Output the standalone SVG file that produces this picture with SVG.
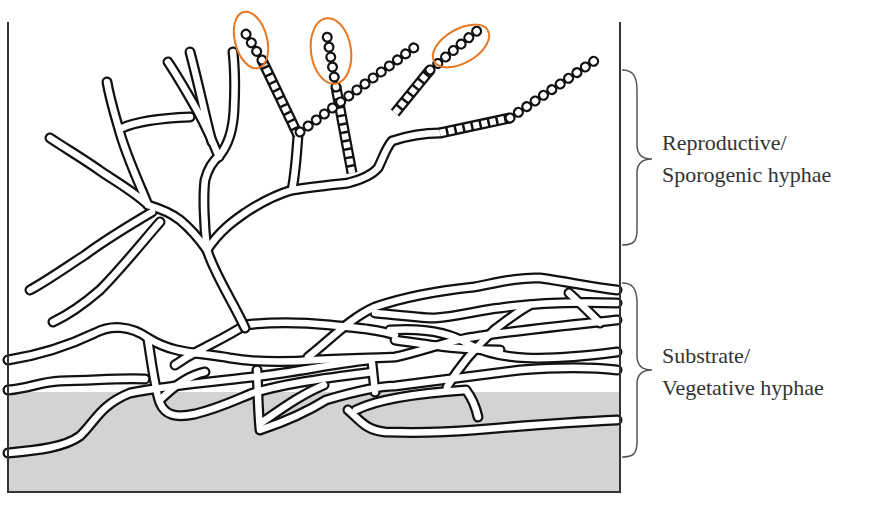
<svg xmlns="http://www.w3.org/2000/svg" width="878" height="514" viewBox="0 0 878 514">
<style>
.o{fill:none;stroke:#111;stroke-width:11;stroke-linecap:round;stroke-linejoin:round}
.i{fill:none;stroke:#fff;stroke-width:6.5;stroke-linecap:round;stroke-linejoin:round}
.so{fill:none;stroke:#111;stroke-width:11;stroke-linecap:round;stroke-dasharray:0.1 10}
.si{fill:none;stroke:#fff;stroke-width:6.5;stroke-linecap:round;stroke-dasharray:0.1 10}
.co{fill:none;stroke:#111;stroke-width:11;stroke-linecap:butt}
.ci{fill:none;stroke:#fff;stroke-width:6.5;stroke-dasharray:6 2.5}
.ring{fill:none;stroke:#e87722;stroke-width:2}
.br{fill:none;stroke:#555;stroke-width:1.5}
.t{font-family:"Liberation Serif",serif;font-size:22px;fill:#333}
</style>
<defs>
<g id="veg">
<path d="M8,360 C40,355 70,345 95,333 C110,325 130,325 148,338 C175,355 200,352 230,358 C260,363 290,362 316,360 C350,358 380,358 395,357 C420,352 450,340 474,337 C520,330 570,325 617,320"/>
<path d="M245,325 C270,322 300,322 330,325 C360,328 380,330 395,335"/>
<path d="M245,325 C230,335 215,342 200,350 C190,355 182,360 175,365"/>
<path d="M308,357 C330,340 350,318 375,307 C410,295 445,290 474,287 C500,282 520,277 540,278 C570,282 590,287 617,290"/>
<path d="M375,313 C400,315 420,318 435,318 C460,316 480,310 500,308 C540,302 580,302 617,303"/>
<path d="M8,390 C30,388 40,382 60,381 C100,380 120,378 145,379"/>
<path d="M8,453 C40,450 65,447 80,436 C95,422 100,405 130,393 C170,385 220,381 253,377 C300,372 340,362 372,360"/>
<path d="M148,340 C152,365 155,390 160,403 C165,415 175,418 195,414 C220,408 240,398 253,393 C290,382 330,378 372,372"/>
<path d="M257,370 C258,390 258,410 260,430 C290,420 310,410 326,400 C360,390 380,386 395,386 C440,380 480,375 520,370 C570,366 600,368 617,370"/>
<path d="M261,423 C280,410 300,395 324,385"/>
<path d="M348,410 C360,420 365,430 385,432 C420,433 450,432 474,430 C520,426 570,422 617,420"/>
<path d="M356,410 C380,398 420,393 466,390 C472,398 476,408 478,417"/>
<path d="M372,363 L375,392"/>
<path d="M447,387 C460,365 478,345 494,330 C510,318 520,310 530,305"/>
<path d="M569,293 C580,303 590,313 600,323"/>
<path d="M390,330 C420,328 450,332 470,345 C500,360 540,362 617,352"/>
<path d="M160,400 C175,385 190,375 205,372"/>
<path d="M395,340 C430,345 460,350 500,350"/>
</g>
<g id="rep">
<path d="M245,328 C232,300 215,275 207,250 C204,225 203,195 205,180 C208,168 214,160 220,155 C228,145 233,130 234,110 C235,90 235,70 233,52"/>
<path d="M219,157 C212,140 205,125 198,112 C190,98 180,80 168,62"/>
<path d="M212,142 C206,120 200,90 190,52"/>
<path d="M207,250 C200,240 192,230 180,220 C170,212 158,208 148,205"/>
<path d="M148,205 C140,185 128,160 120,133 C115,115 110,100 107,82"/>
<path d="M148,205 C135,192 110,178 99,170 C85,160 65,148 50,138"/>
<path d="M152,212 C130,225 105,240 85,255 C65,268 45,282 30,290"/>
<path d="M160,222 C140,245 120,270 100,290 C85,303 68,315 53,322"/>
<path d="M122,128 C140,120 165,118 190,117"/>
<path d="M207,250 C220,230 235,220 245,213 C260,203 275,195 292,190 C310,187 330,185 348,183 C360,180 372,175 378,168 C383,158 386,148 392,141 C410,135 425,133 440,133"/>
<path d="M292,190 C295,175 297,150 298,135"/>
</g>
</defs>
<rect x="8" y="392" width="612" height="100" fill="#d3d3d3"/>
<path d="M8,392 L8,360 C60,350 100,340 150,345 L620,320 L620,392 Z" fill="#fff"/>
<g id="substrate-hyphae">
<use href="#veg" class="o"/>
<use href="#veg" class="i"/>
</g>
<g id="aerial-hyphae">
<use href="#rep" class="o"/>
<use href="#rep" class="i"/>
<path class="co" d="M440,133 L510,118"/>
<path class="ci" d="M440,133 L510,118"/>
<path class="co" d="M298,135 L262,60"/>
<path class="ci" d="M298,135 L262,60"/>
<path class="co" d="M352,173 L336,87"/>
<path class="ci" d="M352,173 L336,87"/>
<path class="co" d="M395,113 L430,70"/>
<path class="ci" d="M395,113 L430,70"/>
<path class="so" d="M510,118 L600,57"/>
<path class="si" d="M510,118 L600,57"/>
<path class="so" d="M300,132 L419,44"/>
<path class="si" d="M300,132 L419,44"/>
<path class="so" d="M262,60 L241,26"/>
<path class="si" d="M262,60 L241,26"/>
<path class="so" d="M336,87 L326,30"/>
<path class="si" d="M336,87 L326,30"/>
<path class="so" d="M430,70 L478,30"/>
<path class="si" d="M430,70 L478,30"/>
</g>
<g id="frame" fill="none" stroke="#333" stroke-width="2">
<path d="M8,22 L8,492 L620,492 L620,22"/>
</g>
<g id="highlights">
<ellipse class="ring" cx="251" cy="40" rx="16" ry="29" transform="rotate(-15 251 40)"/>
<ellipse class="ring" cx="331" cy="51" rx="20" ry="33" transform="rotate(-8 331 51)"/>
<ellipse class="ring" cx="461" cy="46" rx="31" ry="17" transform="rotate(-30 461 46)"/>
</g>
<g id="label-reproductive">
<path class="br" d="M622,70 C632,70 637,75 637,90 L637,145 C637,155 642,159 652,159 C642,159 637,163 637,173 L637,230 C637,243 632,245 622,245"/>
<text class="t" x="662" y="150">Reproductive/</text>
<text class="t" x="662" y="182">Sporogenic hyphae</text>
</g>
<g id="label-substrate">
<path class="br" d="M622,283 C632,283 637,288 637,303 L637,356 C637,366 642,370 652,370 C642,370 637,374 637,384 L637,442 C637,455 632,457 622,457"/>
<text class="t" x="662" y="363">Substrate/</text>
<text class="t" x="662" y="395">Vegetative hyphae</text>
</g>
</svg>
